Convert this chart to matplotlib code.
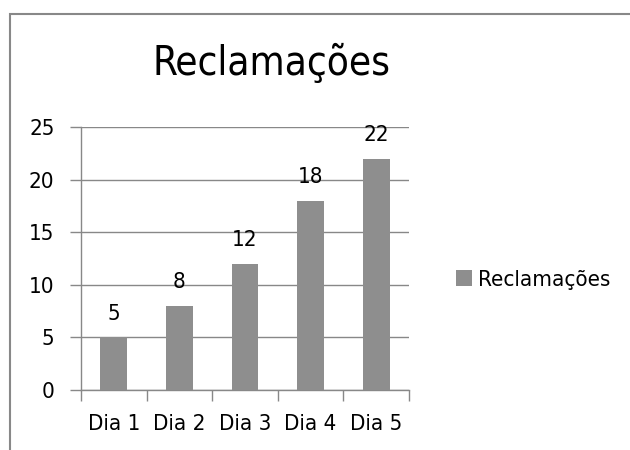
import matplotlib
matplotlib.use("Agg")
import matplotlib.pyplot as plt
from matplotlib.patches import Rectangle

# ── Daten ────────────────────────────────────────────────────────────────────
dias = ["Dia 1", "Dia 2", "Dia 3", "Dia 4", "Dia 5"]
reclamacoes = [5, 8, 12, 18, 22]
titulo = "Reclamações"

plt.rcParams["font.family"] = ["DejaVu Sans"]
plt.rcParams["font.stretch"] = "condensed"

GRAY_LINE = "#888888"
BAR_COLOR = "#8e8e8e"

fig = plt.figure(figsize=(6.3, 4.5), dpi=100)
fig.patches.append(Rectangle((10 / 630, -0.1), 1.2, (436 + 45) / 450, transform=fig.transFigure,
                             fill=False, edgecolor=GRAY_LINE, lw=1.5))

ax = fig.add_axes([81 / 630, 60 / 450, 328 / 630, 263 / 450])
x = range(len(dias))
bars = ax.bar(x, reclamacoes, width=0.41, color=BAR_COLOR, label=titulo, zorder=3)
for xi, v in zip(x, reclamacoes):
    ax.annotate(str(v), (xi, v), xytext=(0, 10), textcoords="offset points",
                ha="center", va="bottom", fontsize=16)

ax.set_xlim(-0.5, len(dias) - 0.5)
ax.set_ylim(0, 25)
ax.set_yticks(range(0, 26, 5))
ax.set_xticks([i - 0.5 for i in range(len(dias) + 1)], minor=False)
ax.set_xticklabels([])
ax.set_xticks(list(x), minor=True)
ax.set_xticklabels(dias, minor=True, fontsize=16)
ax.tick_params(axis="x", which="minor", length=0, pad=17)
ax.tick_params(axis="x", which="major", length=8, color=GRAY_LINE, width=1)
ax.tick_params(axis="y", length=8, color=GRAY_LINE, width=1, labelsize=16, pad=11)
ax.grid(axis="y", color=GRAY_LINE, lw=1, zorder=0)
for s in ["top", "right"]:
    ax.spines[s].set_visible(False)
for s in ["left", "bottom"]:
    ax.spines[s].set_color(GRAY_LINE)
    ax.spines[s].set_linewidth(1)

fig.text(271 / 630, 1 - 64 / 450, titulo, ha="center", va="center", fontsize=29)
fig.legend(handles=[bars], labels=[titulo], loc="center left", bbox_to_anchor=(436 / 630, 1 - 280 / 450),
           frameon=False, fontsize=16, handlelength=0.7, handleheight=0.7, handletextpad=0.3)

fig.savefig("out.png", dpi=100)
plt.close(fig)
